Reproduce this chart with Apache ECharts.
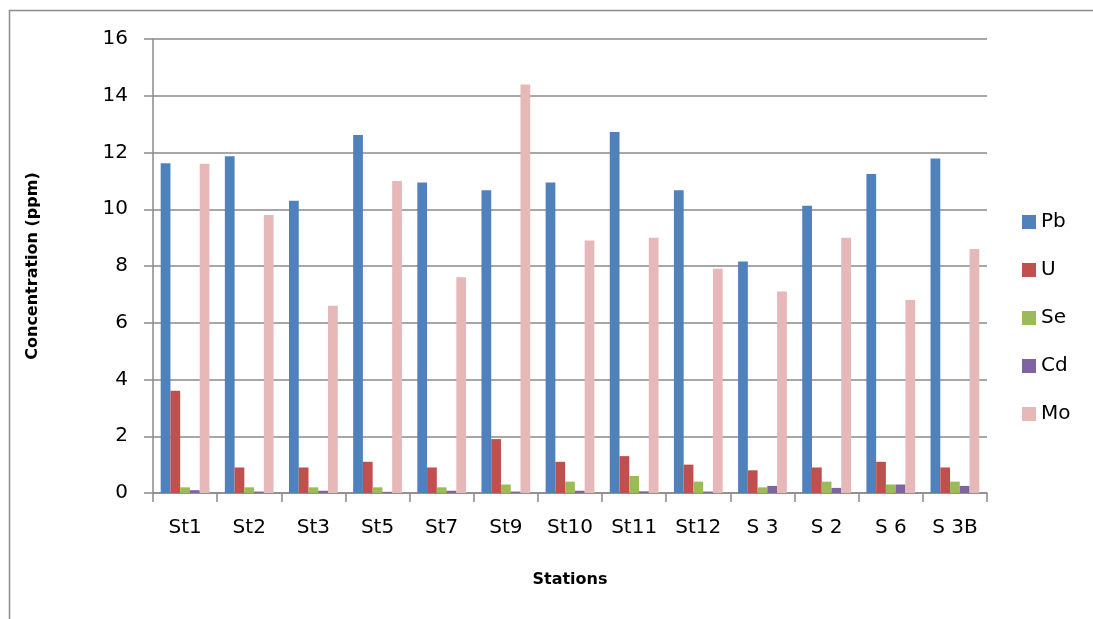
<!DOCTYPE html>
<html>
<head>
<meta charset="utf-8">
<script src="https://cdn.jsdelivr.net/npm/echarts@6/dist/echarts.min.js"></script>
<style>
  html, body { margin: 0; padding: 0; background: #ffffff; }
  #chart { width: 1093px; height: 619px; }
</style>
</head>
<body>
<div id="chart"></div>
<script>
// Trace element concentrations (ppm) per sampling station
const stations = ['St1', 'St2', 'St3', 'St5', 'St7', 'St9', 'St10', 'St11', 'St12', 'S 3', 'S 2', 'S 6', 'S 3B'];
const pb = [11.62, 11.87, 10.3, 12.62, 10.94, 10.67, 10.94, 12.72, 10.67, 8.16, 10.12, 11.24, 11.79];
const u  = [3.6, 0.9, 0.9, 1.1, 0.9, 1.9, 1.1, 1.3, 1.0, 0.8, 0.9, 1.1, 0.9];
const se = [0.2, 0.2, 0.2, 0.2, 0.2, 0.3, 0.4, 0.6, 0.4, 0.2, 0.4, 0.3, 0.4];
const cd = [0.1, 0.05, 0.08, 0.04, 0.08, 0.05, 0.08, 0.06, 0.05, 0.25, 0.18, 0.3, 0.25];
const mo = [11.6, 9.8, 6.6, 11.0, 7.6, 14.4, 8.9, 9.0, 7.9, 7.1, 9.0, 6.8, 8.6];
const yTicks = { min: 0, max: 16, step: 2 };

const FONT = '"DejaVu Sans", "Liberation Sans", sans-serif';
const GRID_GRAY = '#8a8a8a';

const seriesDefs = [
  { name: 'Pb', data: pb, color: '#4F81BD' },
  { name: 'U',  data: u,  color: '#C0504D' },
  { name: 'Se', data: se, color: '#9BBB59' },
  { name: 'Cd', data: cd, color: '#8064A2' },
  { name: 'Mo', data: mo, color: '#E6B9B8' }
];

const chart = echarts.init(document.getElementById('chart'), null, { renderer: 'canvas' });

chart.setOption({
  animation: false,
  backgroundColor: '#ffffff',
  textStyle: { fontFamily: FONT, color: '#000000' },
  graphic: [{
    type: 'rect',
    shape: { x: 9.5, y: 10.5, width: 1095, height: 620 },
    style: { fill: 'none', stroke: '#8c8c8c', lineWidth: 1.5 },
    silent: true,
    z: -1
  }],
  grid: { left: 153, right: 106, top: 39, bottom: 126, containLabel: false },
  legend: {
    orient: 'vertical',
    left: 1022,
    top: 212,
    padding: 0,
    itemWidth: 14,
    itemHeight: 14,
    itemGap: 28,
    icon: 'rect',
    textStyle: { fontFamily: FONT, fontSize: 20, lineHeight: 20, color: '#000000', padding: [0, 0, 0, 0] },
    data: seriesDefs.map(s => s.name)
  },
  xAxis: {
    type: 'category',
    data: stations,
    name: 'Stations',
    nameLocation: 'middle',
    nameGap: 79,
    nameTextStyle: { fontFamily: FONT, fontSize: 16, fontWeight: 'bold', color: '#000000' },
    axisLine: { show: true, lineStyle: { color: GRID_GRAY, width: 1.5 } },
    axisTick: { show: true, length: 9, alignWithLabel: false, lineStyle: { color: GRID_GRAY, width: 1.5 } },
    axisLabel: { fontFamily: FONT, fontSize: 20, color: '#000000', margin: 25 },
    splitLine: { show: false }
  },
  yAxis: {
    type: 'value',
    min: yTicks.min,
    max: yTicks.max,
    interval: yTicks.step,
    name: 'Concentration (ppm)',
    nameLocation: 'middle',
    nameGap: 112,
    nameRotate: 90,
    nameTextStyle: { fontFamily: FONT, fontSize: 16, fontWeight: 'bold', color: '#000000' },
    axisLine: { show: true, lineStyle: { color: GRID_GRAY, width: 1.5 } },
    axisTick: { show: true, length: 9, lineStyle: { color: GRID_GRAY, width: 1.5 } },
    axisLabel: { fontFamily: FONT, fontSize: 20, color: '#000000', margin: 25 },
    splitLine: { show: true, lineStyle: { color: GRID_GRAY, width: 1.5 } }
  },
  series: seriesDefs.map(s => ({
    name: s.name,
    type: 'bar',
    data: s.data,
    barGap: '0%',
    barCategoryGap: '24%',
    itemStyle: { color: s.color },
    emphasis: { disabled: true }
  }))
});
</script>
</body>
</html>
